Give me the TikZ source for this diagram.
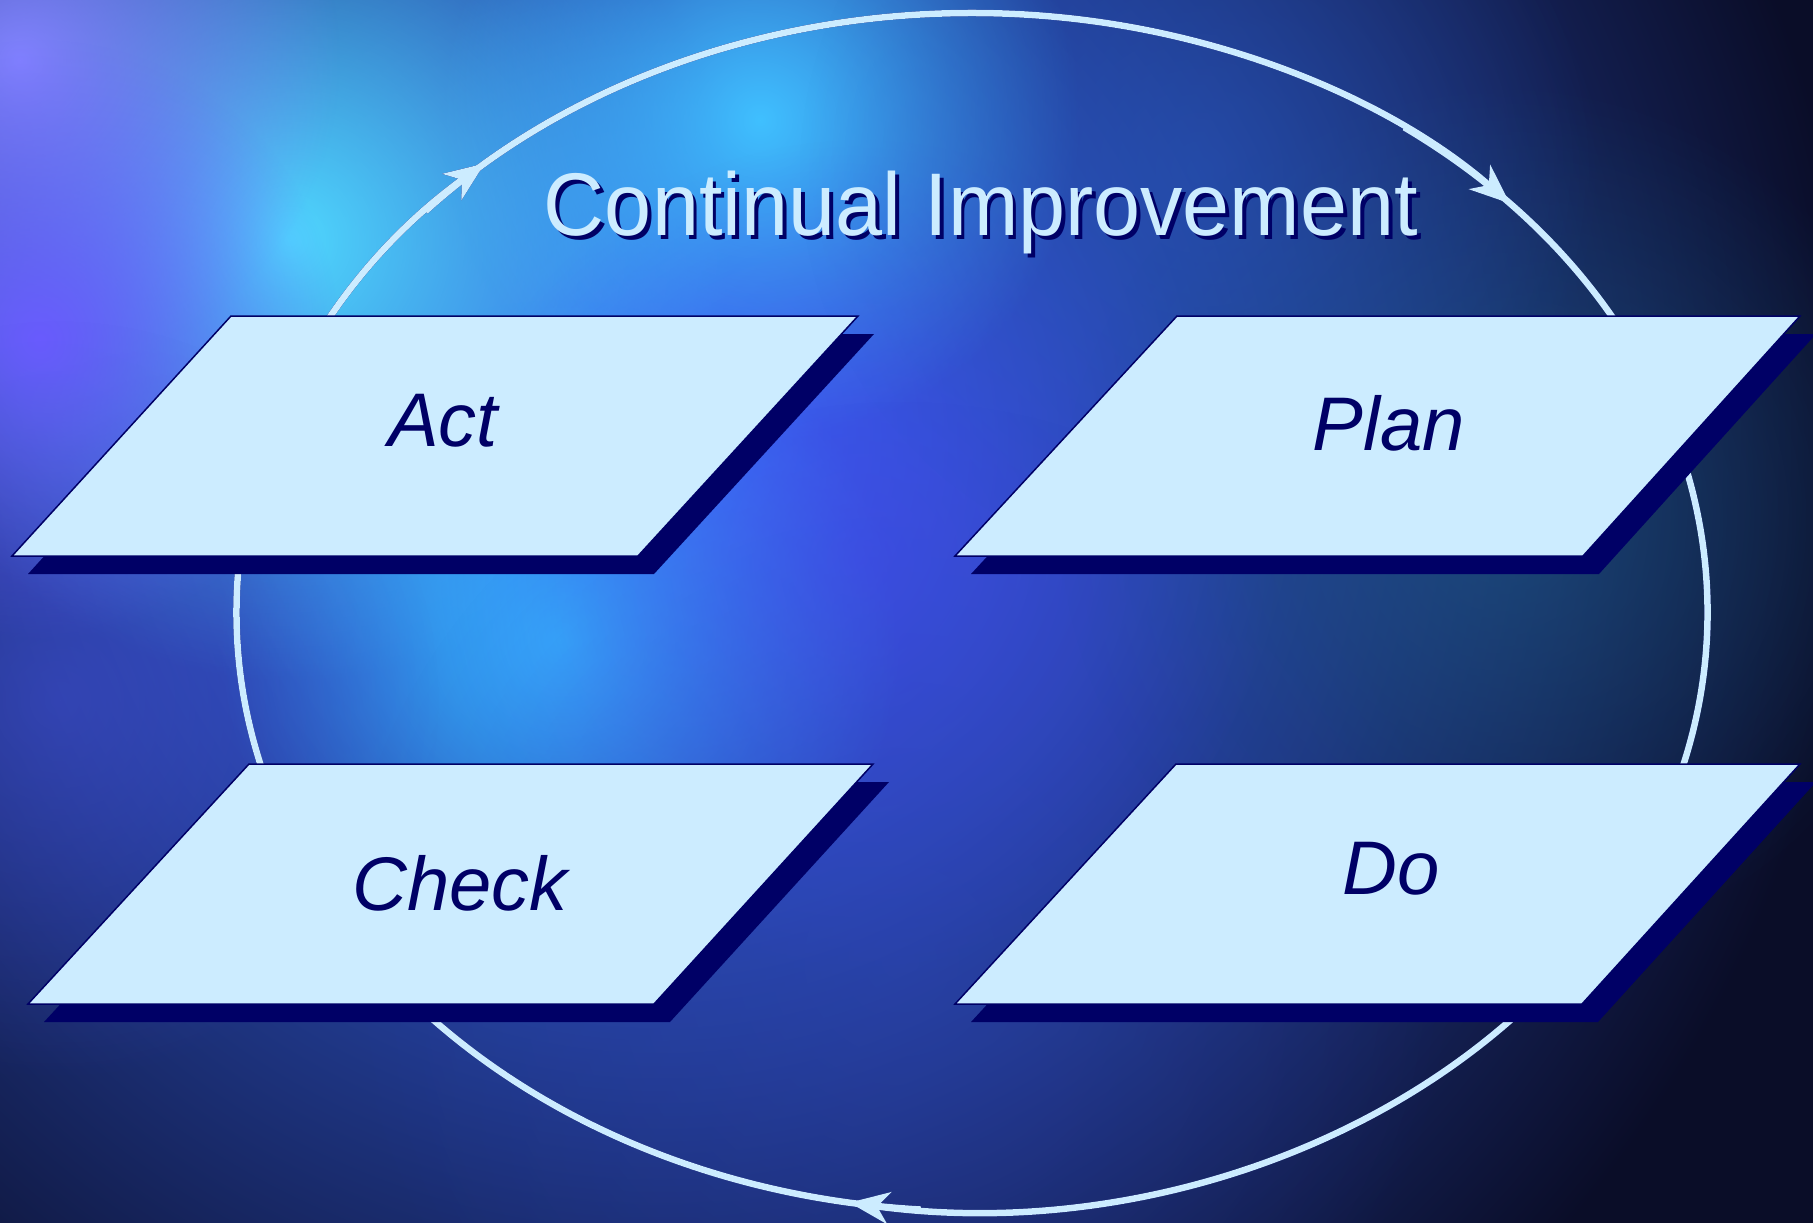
\documentclass[tikz,border=0pt]{standalone}
\usepackage{fontspec}
\setmainfont{Liberation Sans}
\usetikzlibrary{fadings,arrows.meta}
\tikzfading[name=blob, inner color=transparent!0, outer color=transparent!100]
\definecolor{navy}{HTML}{000066}
\definecolor{boxfill}{HTML}{CCECFF}
\definecolor{ringc}{HTML}{CCECFF}
\definecolor{bgdark}{HTML}{0A0D28}
\definecolor{bgmain}{HTML}{3A6CFF}
\tikzset{
  ring/.style={ringc, line width=6.5pt, -{Stealth[length=40pt,width=32pt,inset=12pt]}},
  ringshadow/.style={navy, line width=6.5pt, -{Stealth[length=40pt,width=32pt,inset=12pt]}},
  boxshadow/.style={fill=navy},
  boxface/.style={fill=boxfill, draw=navy, line width=1.5pt, line join=miter},
  label/.style={text=navy, font=\fontsize{76}{80}\selectfont\itshape, anchor=base, inner sep=0pt},
  titletext/.style={font=\fontsize{89}{96}\selectfont, anchor=base, inner sep=0pt, xscale=0.95},
  glow/.style={path fading=blob}
}
\begin{document}
\begin{tikzpicture}[x=1pt,y=-1pt]
\useasboundingbox (0,0) rectangle (1813,1223);
% background
\fill[bgdark] (0,0) rectangle (1813,1223);
\begin{scope}
\clip (0,0) rectangle (1813,1223);
\shade[inner color=bgmain, outer color=bgdark] (660,440) circle (1200);
\fill[glow, color={rgb,255:red,80;green,216;blue,255}] (290,240) circle (440);
\fill[glow, color={rgb,255:red,64;green,192;blue,255}] (760,120) circle (320);
\fill[glow, color={rgb,255:red,53;green,184;blue,255}] (560,640) circle (340);
\fill[glow, color={rgb,255:red,130;green,130;blue,255}] (20,60) circle (320);
\fill[glow, color={rgb,255:red,106;green,92;blue,255}] (40,340) circle (300);
\fill[glow, color={rgb,255:red,70;green,70;blue,240}, opacity=0.6] (860,560) circle (420);
\fill[glow, color={rgb,255:red,30;green,100;blue,140}, opacity=0.5] (1500,520) circle (440);
\fill[glow, color={rgb,255:red,48;green,70;blue,190}, opacity=0.4] (900,960) circle (560);
\fill[glow, color={rgb,255:red,40;green,90;blue,190}, opacity=0.5] (1200,170) circle (400);
\fill[glow, color={rgb,255:red,70;green,80;blue,220}, opacity=0.5] (60,700) circle (380);
\end{scope}
% cycle ring
\coordinate (c) at (972,612);
\begin{scope}[shift={(3.5,3.5)}]
\draw[ringshadow] (c) ++(94:735.5 and 599) arc[start angle=94, end angle=228.5, x radius=735.5, y radius=599];
\draw[ringshadow] (c) ++(222:735.5 and 599) arc[start angle=222, end angle=317, x radius=735.5, y radius=599];
\draw[ringshadow] (c) ++(-54:735.5 and 599) arc[start angle=-54, end angle=99.6, x radius=735.5, y radius=599];
\end{scope}
\draw[ring] (c) ++(94:735.5 and 599) arc[start angle=94, end angle=228.5, x radius=735.5, y radius=599];
\draw[ring] (c) ++(222:735.5 and 599) arc[start angle=222, end angle=317, x radius=735.5, y radius=599];
\draw[ring] (c) ++(-54:735.5 and 599) arc[start angle=-54, end angle=99.6, x radius=735.5, y radius=599];
% title (with its shadow in the same node)
\node[titletext, text=ringc] (title) at (981,235) {\rlap{\kern4pt\raisebox{-4pt}{\color{navy}Continual Improvement}}Continual Improvement};
% boxes: Act
\fill[boxshadow] (247,334) -- (874,334) -- (654,574) -- (28,574) -- cycle;
\path[boxface] (231,316) -- (858,316) -- (638,556) -- (12,556) -- cycle;
\node[label] (act) at (443,446) {Act};
% Plan
\fill[boxshadow] (1193,334) -- (1816,334) -- (1599,574) -- (971,574) -- cycle;
\path[boxface] (1177,316) -- (1800,316) -- (1583,556) -- (955,556) -- cycle;
\node[label] (plan) at (1389,450) {Plan};
% Check
\fill[boxshadow] (265,782) -- (889,782) -- (670,1022) -- (44,1022) -- cycle;
\path[boxface] (249,764) -- (873,764) -- (654,1004) -- (28,1004) -- cycle;
\node[label] (check) at (460,910) {Check};
% Do
\fill[boxshadow] (1192,782) -- (1816,782) -- (1598,1022) -- (971,1022) -- cycle;
\path[boxface] (1176,764) -- (1800,764) -- (1582,1004) -- (955,1004) -- cycle;
\node[label] (do) at (1391,894) {Do};
\end{tikzpicture}
\end{document}
